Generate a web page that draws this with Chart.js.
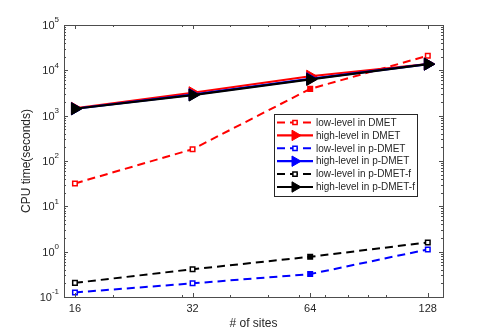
<!DOCTYPE html>
<html>
<head>
<meta charset="utf-8">
<script src="https://cdn.jsdelivr.net/npm/chart.js@4.4.0/dist/chart.umd.min.js"></script>
<style>
  html, body { margin: 0; padding: 0; background: #fff; }
  #wrap { width: 490px; height: 334px; }
</style>
</head>
<body>
<div id="wrap"><canvas id="chart"></canvas></div>
<script>
// values (log-log plot)
const sites = [16, 32, 64, 128];
const lowDMET = [32, 182, 3900, 21000];
const highDMET = [1450, 3200, 7400, 13800];
const lowPDMET = [0.126, 0.20, 0.32, 1.12];
const highPDMET = [1420, 2900, 6500, 13700];
const lowPDMETf = [0.205, 0.41, 0.77, 1.6];
const highPDMETf = [1420, 2850, 6300, 13700];
const seriesNames = ['low-level in DMET', 'high-level in DMET', 'low-level in p-DMET',
    'high-level in p-DMET', 'low-level in p-DMET-f', 'high-level in p-DMET-f'];
const yExponents = [-1, 0, 1, 2, 3, 4, 5];
const xMinor = [20, 30, 40, 50, 60, 70, 80, 90, 100];

const FONT = '"Liberation Sans", Arial, Helvetica, sans-serif';
const TEXT = '#262626';
const AXIS = '#4d4d4d';

function pts(vals) {
    return sites.map((s, i) => ({ x: s, y: vals[i] }));
}

function lowSet(label, vals, color) {
    return {
        label: label,
        data: pts(vals),
        borderColor: color,
        borderWidth: 2,
        borderDash: [8, 5],
        pointStyle: 'rect',
        pointRadius: 3.2,
        pointBorderWidth: 1.5,
        pointBorderColor: color,
        pointBackgroundColor: sites.map(s => s === 64 ? color : '#fff'),
        fill: false,
        tension: 0
    };
}

function highSet(label, vals, color) {
    return {
        label: label,
        data: pts(vals),
        borderColor: color,
        borderWidth: 2.2,
        pointStyle: 'triangle',
        pointRotation: 90,
        pointRadius: 7,
        pointBorderWidth: 1,
        pointBorderColor: color,
        pointBackgroundColor: color,
        fill: false,
        tension: 0
    };
}

const datasets = [
    lowSet(seriesNames[0], lowDMET, '#ff0000'),
    highSet(seriesNames[1], highDMET, '#ff0000'),
    lowSet(seriesNames[2], lowPDMET, '#0000ff'),
    highSet(seriesNames[3], highPDMET, '#0000ff'),
    lowSet(seriesNames[4], lowPDMETf, '#000000'),
    highSet(seriesNames[5], highPDMETf, '#000000')
];
// later series drawn on top, like the original
datasets.forEach((d, i) => { d.order = datasets.length - i; });

const axesPlugin = {
    id: 'matlabAxes',
    afterDraw(chart) {
        const ctx = chart.ctx;
        const a = chart.chartArea;
        const xs = chart.scales.x;
        const ys = chart.scales.y;
        ctx.save();
        ctx.strokeStyle = AXIS;
        ctx.lineWidth = 1;
        ctx.strokeRect(Math.round(a.left) + 0.5, Math.round(a.top) + 0.5,
            Math.round(a.right - a.left), Math.round(a.bottom - a.top));

        ctx.beginPath();
        // y ticks
        yExponents.forEach(e => {
            const y = Math.round(ys.getPixelForValue(Math.pow(10, e))) + 0.5;
            ctx.moveTo(a.left, y); ctx.lineTo(a.left + 4, y);
            ctx.moveTo(a.right, y); ctx.lineTo(a.right - 4, y);
            if (e < 5) {
                for (let m = 2; m < 10; m++) {
                    const ym = Math.round(ys.getPixelForValue(m * Math.pow(10, e))) + 0.5;
                    ctx.moveTo(a.left, ym); ctx.lineTo(a.left + 2, ym);
                    ctx.moveTo(a.right, ym); ctx.lineTo(a.right - 2, ym);
                }
            }
        });
        // x ticks
        sites.forEach(s => {
            const x = Math.round(xs.getPixelForValue(s)) + 0.5;
            ctx.moveTo(x, a.bottom); ctx.lineTo(x, a.bottom - 4);
            ctx.moveTo(x, a.top); ctx.lineTo(x, a.top + 4);
        });
        xMinor.forEach(s => {
            const x = Math.round(xs.getPixelForValue(s)) + 0.5;
            ctx.moveTo(x, a.bottom); ctx.lineTo(x, a.bottom - 2);
            ctx.moveTo(x, a.top); ctx.lineTo(x, a.top + 2);
        });
        ctx.stroke();

        // tick labels
        ctx.fillStyle = TEXT;
        ctx.textBaseline = 'middle';
        yExponents.forEach(e => {
            const y = ys.getPixelForValue(Math.pow(10, e));
            const exp = String(e);
            ctx.font = '8px ' + FONT;
            const ew = ctx.measureText(exp).width;
            const right = a.left - 5;
            ctx.textAlign = 'left';
            ctx.fillText(exp, right - ew, y - 5);
            ctx.font = '11px ' + FONT;
            ctx.textAlign = 'right';
            ctx.fillText('10', right - ew, y + 1);
        });
        ctx.font = '11px ' + FONT;
        ctx.textAlign = 'center';
        sites.forEach(s => {
            ctx.fillText(String(s), xs.getPixelForValue(s), a.bottom + 12);
        });

        // axis titles
        ctx.font = '12px ' + FONT;
        ctx.fillText('# of sites', (a.left + a.right) / 2, a.bottom + 27);
        ctx.save();
        ctx.translate(27, (a.top + a.bottom) / 2);
        ctx.rotate(-Math.PI / 2);
        ctx.fillText('CPU time(seconds)', 0, 0);
        ctx.restore();

        // legend box
        const lx = 274, ly = 114, lw = 143, lh = 82;
        ctx.fillStyle = '#fff';
        ctx.fillRect(lx, ly, lw, lh);
        ctx.strokeStyle = '#262626';
        ctx.strokeRect(lx + 0.5, ly + 0.5, lw, lh);
        const rowH = 12.9;
        datasets.forEach((d, i) => {
            const cy = ly + 8.5 + i * rowH;
            ctx.save();
            ctx.strokeStyle = d.borderColor;
            ctx.lineWidth = d.borderWidth;
            ctx.setLineDash(d.borderDash || []);
            ctx.beginPath();
            ctx.moveTo(277, cy); ctx.lineTo(313, cy);
            ctx.stroke();
            ctx.setLineDash([]);
            ctx.lineWidth = d.pointBorderWidth;
            ctx.fillStyle = d.pointStyle === 'rect' ? '#fff' : d.borderColor;
            Chart.helpers.drawPoint(ctx, {
                pointStyle: d.pointStyle,
                rotation: d.pointRotation || 0,
                radius: d.pointStyle === 'rect' ? 3 : 6,
                borderWidth: d.pointBorderWidth
            }, 295, cy);
            ctx.restore();
            ctx.fillStyle = TEXT;
            ctx.font = '10px ' + FONT;
            ctx.textAlign = 'left';
            ctx.fillText(d.label, 316, cy + 0.5);
        });
        ctx.restore();
    }
};

const ctx = document.querySelector('#chart').getContext('2d');
const cpuChart = new Chart(ctx, {
    type: 'line',
    data: { datasets: datasets },
    options: {
        responsive: true,
        maintainAspectRatio: false,
        animation: false,
        layout: { padding: { left: 64, right: 47, top: 25, bottom: 37 } },
        plugins: { legend: { display: false }, tooltip: { enabled: false } },
        scales: {
            x: { type: 'logarithmic', min: 15, max: 140, display: false },
            y: { type: 'logarithmic', min: 0.1, max: 100000, display: false }
        }
    },
    plugins: [axesPlugin]
});
</script>
</body>
</html>
